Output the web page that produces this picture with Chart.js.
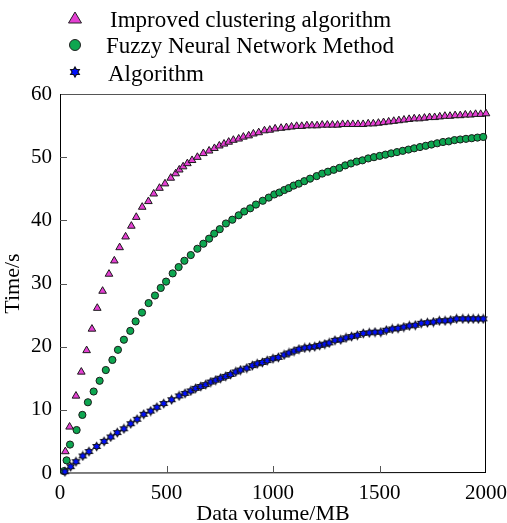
<!DOCTYPE html>
<html>
<head>
<meta charset="utf-8">
<script src="https://cdn.jsdelivr.net/npm/chart.js@4.4.0/dist/chart.umd.min.js"></script>
<style>
  html, body { margin: 0; padding: 0; background: #fff; }
</style>
</head>
<body>
<canvas id="myChart" width="507" height="523"></canvas>
<script>
const seriesNames = ["Improved clustering algorithm", "Fuzzy Neural Network Method", "Algorithm"];
const xTicks = [0, 500, 1000, 1500, 2000];
const yTicks = [0, 10, 20, 30, 40, 50, 60];

// Improved clustering algorithm (triangles)
const triX = [25, 45, 75, 100, 125, 150, 175, 200, 230, 255,
  280, 308, 335, 358, 386, 415, 440, 467, 493, 520,
  543, 560, 578, 598, 620, 645, 673, 700, 725, 748,
  770, 792, 814, 839, 861, 886, 908, 933, 960, 985,
  1010, 1038, 1063, 1087, 1111, 1135, 1159, 1183, 1207, 1231,
  1255, 1279, 1303, 1327, 1351, 1375, 1399, 1423, 1447, 1471,
  1495, 1519, 1543, 1567, 1591, 1615, 1639, 1663, 1687, 1711,
  1735, 1759, 1783, 1807, 1831, 1855, 1879, 1903, 1927, 1951,
  1975, 2000];
const triY = [3.4, 7.3, 12.2, 16.0, 19.4, 22.8, 26.1, 28.8, 31.5, 33.6,
  35.7, 37.4, 39.1, 40.5, 42.1, 43.0, 44.2, 45.1, 45.8, 46.7,
  47.4, 48.0, 48.5, 49.0, 49.5, 50.0, 50.6, 51.0, 51.4, 51.8,
  52.1, 52.4, 52.7, 52.9, 53.2, 53.4, 53.7, 53.9, 54.2, 54.3,
  54.5, 54.6, 54.7, 54.8, 54.9, 54.9, 55.0, 55.0, 55.0, 55.1,
  55.1, 55.1, 55.1, 55.2, 55.2, 55.2, 55.2, 55.2, 55.3, 55.3,
  55.4, 55.5, 55.6, 55.7, 55.8, 55.9, 56.0, 56.1, 56.1, 56.2,
  56.3, 56.3, 56.4, 56.5, 56.5, 56.6, 56.6, 56.7, 56.7, 56.8,
  56.8, 56.9];

// Fuzzy Neural Network Method (circles)
const fnnX = [19, 31, 47, 78, 105, 131, 158, 186, 215, 246,
  272, 300, 330, 355, 385, 416, 446, 473, 498, 529,
  557, 584, 614, 645, 673, 700, 724, 750, 779, 809,
  839, 865, 893, 920, 952, 980, 1006, 1030, 1053, 1074,
  1097, 1121, 1147, 1174, 1205, 1231, 1258, 1285, 1312, 1339,
  1366, 1393, 1420, 1447, 1474, 1501, 1528, 1555, 1582, 1609,
  1636, 1663, 1690, 1717, 1744, 1771, 1798, 1825, 1852, 1879,
  1906, 1933, 1960, 1987];
const fnnY = [0.3, 2.0, 4.5, 6.8, 9.2, 11.2, 12.9, 14.6, 16.3, 17.9,
  19.5, 21.1, 22.5, 24.0, 25.4, 26.9, 28.1, 29.3, 30.3, 31.6,
  32.6, 33.6, 34.5, 35.5, 36.3, 37.1, 37.9, 38.6, 39.5, 40.1,
  40.8, 41.4, 41.9, 42.5, 43.1, 43.6, 44.1, 44.4, 44.8, 45.1,
  45.5, 45.8, 46.2, 46.6, 47.0, 47.4, 47.7, 48.0, 48.3, 48.7,
  49.0, 49.3, 49.5, 49.8, 50.0, 50.2, 50.4, 50.6, 50.8, 51.0,
  51.2, 51.4, 51.6, 51.8, 52.0, 52.2, 52.4, 52.5, 52.7, 52.8,
  52.9, 53.0, 53.1, 53.2];

// Algorithm (stars)
const algX = [23, 50, 75, 107, 136, 172, 207, 238, 269, 300,
  332, 362, 393, 426, 455, 487, 524, 559, 587, 614,
  637, 661, 684, 708, 731, 754, 778, 801, 825, 848,
  877, 903, 926, 950, 973, 1000, 1025, 1052, 1075, 1099,
  1122, 1149, 1172, 1196, 1219, 1243, 1264, 1291, 1318, 1343,
  1369, 1396, 1424, 1452, 1479, 1506, 1532, 1560, 1587, 1614,
  1640, 1668, 1696, 1725, 1753, 1781, 1808, 1834, 1862, 1891,
  1917, 1940, 1964, 1987];
const algY = [0.2, 1.0, 1.8, 2.7, 3.4, 4.2, 5.0, 5.7, 6.4, 7.0,
  7.8, 8.5, 9.3, 9.8, 10.4, 11.0, 11.6, 12.2, 12.6, 13.0,
  13.4, 13.7, 14.0, 14.4, 14.7, 15.0, 15.3, 15.6, 16.0, 16.3,
  16.6, 17.0, 17.3, 17.5, 17.8, 18.1, 18.3, 18.7, 19.0, 19.3,
  19.6, 19.8, 19.9, 20.0, 20.2, 20.4, 20.6, 21.0, 21.1, 21.4,
  21.6, 21.8, 22.1, 22.2, 22.3, 22.3, 22.6, 22.8, 22.9, 23.1,
  23.3, 23.4, 23.7, 23.8, 23.9, 24.1, 24.1, 24.2, 24.4, 24.4,
  24.4, 24.4, 24.4, 24.4];

const serif = "'Liberation Serif', 'Times New Roman', serif";
const triColor = "#e43fd3";
const fnnColor = "#0da650";
const algColor = "#0010ff";

function toPoints(xs, ys) {
  return xs.map((x, i) => ({ x: x, y: ys[i] }));
}

// six pointed star marker
function makeStar(r) {
  const s = Math.ceil(r * 2 + 3);
  const c = document.createElement("canvas");
  c.width = s;
  c.height = s;
  const g = c.getContext("2d");
  drawStar(g, s / 2, s / 2, r);
  return c;
}
function drawStar(g, cx, cy, r) {
  g.beginPath();
  for (let i = 0; i < 12; i++) {
    const a = -Math.PI / 2 + i * Math.PI / 6;
    const rr = i % 2 === 0 ? r : r * 0.577;
    g.lineTo(cx + rr * Math.cos(a), cy + rr * Math.sin(a));
  }
  g.closePath();
  g.fillStyle = algColor;
  g.fill();
  g.strokeStyle = "#111122";
  g.lineWidth = 1.2;
  g.stroke();
}

const frame = {
  id: "frame",
  beforeDatasetsDraw(chart) {
    const { ctx, chartArea: a, scales } = chart;
    ctx.save();
    ctx.lineWidth = 1;
    ctx.strokeStyle = "#555";
    ctx.beginPath();
    ctx.moveTo(a.left, a.top + 0.5);
    ctx.lineTo(a.right, a.top + 0.5);
    ctx.stroke();
    ctx.strokeStyle = "#000";
    ctx.beginPath();
    ctx.moveTo(a.right - 0.5, a.top);
    ctx.lineTo(a.right - 0.5, a.bottom);
    ctx.moveTo(a.left + 0.5, a.top);
    ctx.lineTo(a.left + 0.5, a.bottom);
    ctx.lineTo(a.right, a.bottom - 0.5);
    ctx.stroke();
    // inward tick marks
    ctx.strokeStyle = "#555";
    ctx.beginPath();
    xTicks.slice(1, -1).forEach((v) => {
      const px = Math.round(scales.x.getPixelForValue(v)) + 0.5;
      ctx.moveTo(px, a.bottom);
      ctx.lineTo(px, a.bottom - 7);
    });
    yTicks.slice(1, -1).forEach((v) => {
      const py = Math.round(scales.y.getPixelForValue(v)) + 0.5;
      ctx.moveTo(a.left, py);
      ctx.lineTo(a.left + 7, py);
    });
    ctx.stroke();
    ctx.restore();
  },
};

const legendBox = {
  id: "legendBox",
  afterDraw(chart) {
    const ctx = chart.ctx;
    ctx.save();
    // triangle
    ctx.beginPath();
    ctx.moveTo(75, 12);
    ctx.lineTo(81.5, 23);
    ctx.lineTo(68.5, 23);
    ctx.closePath();
    ctx.fillStyle = triColor;
    ctx.fill();
    ctx.strokeStyle = "#222";
    ctx.lineWidth = 1;
    ctx.stroke();
    // circle
    ctx.beginPath();
    ctx.arc(75, 45, 5.5, 0, Math.PI * 2);
    ctx.fillStyle = fnnColor;
    ctx.fill();
    ctx.stroke();
    // star
    drawStar(ctx, 75, 72, 5);

    ctx.fillStyle = "#000";
    ctx.font = "23px " + serif;
    ctx.textBaseline = "alphabetic";
    ctx.fillText(seriesNames[0], 110, 27);
    ctx.fillText(seriesNames[1], 106, 53);
    ctx.fillText(seriesNames[2], 108, 81);
    ctx.restore();
  },
};

const data = {
  datasets: [
    {
      label: seriesNames[2],
      data: toPoints(algX, algY),
      pointStyle: makeStar(4),
      pointRadius: 4,
      clip: false,
    },
    {
      label: seriesNames[1],
      data: toPoints(fnnX, fnnY),
      pointStyle: "circle",
      pointRadius: 3.6,
      backgroundColor: fnnColor,
      borderColor: "#1a1a1a",
      borderWidth: 1,
      clip: false,
    },
    {
      label: seriesNames[0],
      data: toPoints(triX, triY),
      pointStyle: "triangle",
      pointRadius: 4.4,
      backgroundColor: triColor,
      borderColor: "#1a1a1a",
      borderWidth: 1,
      clip: false,
    },
  ],
};

const config = {
  type: "scatter",
  data: data,
  options: {
    responsive: false,
    animation: false,
    layout: {
      padding: { top: 94, right: 21, left: 0, bottom: 0 },
    },
    plugins: {
      legend: { display: false },
      tooltip: { enabled: false },
    },
    scales: {
      x: {
        type: "linear",
        min: 0,
        max: 2000,
        afterFit: (scale) => {
          scale.height = 50;
          scale.paddingLeft = 0;
          scale.paddingRight = 0;
        },
        afterBuildTicks: (scale) => { scale.ticks = xTicks.map((v) => ({ value: v })); },
        grid: { display: false, drawTicks: false },
        border: { display: false },
        ticks: {
          color: "#000",
          padding: 8,
          maxRotation: 0,
          callback: (v) => String(v),
          font: { family: serif, size: 21 },
        },
        title: {
          display: true,
          text: "Data volume/MB",
          color: "#000",
          padding: { top: 0, bottom: -4 },
          font: { family: serif, size: 22 },
        },
      },
      y: {
        type: "linear",
        min: 0,
        max: 60,
        afterFit: (scale) => { scale.width = 60; },
        afterBuildTicks: (scale) => { scale.ticks = yTicks.map((v) => ({ value: v })); },
        grid: { display: false, drawTicks: false },
        border: { display: false },
        ticks: {
          color: "#000",
          padding: 8,
          callback: (v) => String(v),
          font: { family: serif, size: 21 },
        },
        title: {
          display: true,
          text: "Time/s",
          color: "#000",
          padding: { top: 0, bottom: 2 },
          font: { family: serif, size: 22 },
        },
      },
    },
  },
  plugins: [frame, legendBox],
};

const canvas = document.getElementById("myChart");
const myChart = new Chart(canvas.getContext("2d"), config);
</script>
</body>
</html>
